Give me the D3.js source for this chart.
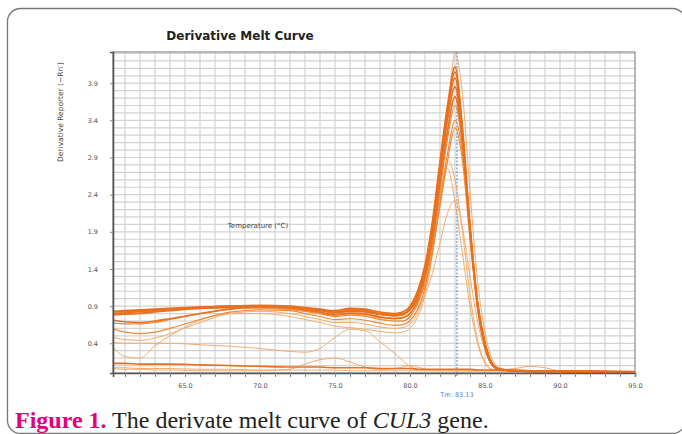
<!DOCTYPE html>
<html>
<head>
<meta charset="utf-8">
<script src="https://cdn.jsdelivr.net/npm/d3@7"></script>
<style>
  body { margin: 0; background: #fff; }
  svg { display: block; }
</style>
</head>
<body>
<div id="chart"></div>
<script>
// temperature samples (°C), shared by every curve
const temps = [60.2, 61, 62, 63, 64, 66, 68, 70, 72, 73, 74, 75, 76, 77, 78, 79, 79.5,
    80, 80.5, 81, 81.5, 82, 82.5, 83, 83.5, 84, 84.5, 85, 85.5, 86,
    87, 88, 89, 90, 92, 95];

// derivative reporter values
const c1 = [0.80, 0.82, 0.84, 0.85, 0.86, 0.87, 0.88, 0.89, 0.88, 0.86, 0.84, 0.83, 0.86, 0.85, 0.80, 0.78, 0.79,
    0.85, 1.00, 1.30, 1.80, 2.60, 3.45, 4.30, 3.75, 2.45, 1.25, 0.55, 0.18, 0.07,
    0.03, 0.02, 0.02, 0.02, 0.01, 0.01];
const c2 = [0.83, 0.84, 0.85, 0.86, 0.87, 0.89, 0.90, 0.91, 0.90, 0.88, 0.86, 0.84, 0.87, 0.86, 0.82, 0.80, 0.82,
    0.90, 1.10, 1.45, 2.05, 2.85, 3.60, 4.12, 3.30, 2.00, 0.95, 0.40, 0.12, 0.05,
    0.03, 0.02, 0.02, 0.02, 0.01, 0.01];
const c3 = [0.80, 0.81, 0.83, 0.84, 0.86, 0.88, 0.90, 0.90, 0.89, 0.87, 0.85, 0.82, 0.85, 0.84, 0.80, 0.79, 0.80,
    0.88, 1.08, 1.42, 2.00, 2.80, 3.55, 4.05, 3.25, 1.95, 0.90, 0.35, 0.10, 0.04,
    0.03, 0.02, 0.02, 0.02, 0.01, 0.01];
const c4 = [0.78, 0.79, 0.80, 0.82, 0.84, 0.87, 0.89, 0.90, 0.88, 0.86, 0.84, 0.81, 0.83, 0.82, 0.79, 0.77, 0.78,
    0.86, 1.05, 1.40, 1.95, 2.75, 3.50, 3.97, 3.20, 1.90, 0.88, 0.35, 0.10, 0.04,
    0.03, 0.02, 0.02, 0.02, 0.01, 0.01];
const c5 = [0.82, 0.83, 0.84, 0.85, 0.86, 0.88, 0.89, 0.90, 0.89, 0.87, 0.84, 0.81, 0.84, 0.83, 0.79, 0.77, 0.79,
    0.85, 1.02, 1.35, 1.90, 2.65, 3.40, 3.85, 3.15, 1.95, 0.95, 0.40, 0.12, 0.05,
    0.03, 0.02, 0.02, 0.02, 0.01, 0.01];
const c6 = [0.71, 0.69, 0.68, 0.70, 0.73, 0.80, 0.86, 0.89, 0.88, 0.85, 0.82, 0.78, 0.80, 0.79, 0.75, 0.73, 0.74,
    0.80, 0.98, 1.30, 1.80, 2.55, 3.25, 3.72, 3.10, 1.95, 0.95, 0.40, 0.12, 0.05,
    0.03, 0.02, 0.02, 0.02, 0.01, 0.01];
const c7 = [0.67, 0.66, 0.66, 0.68, 0.72, 0.80, 0.86, 0.88, 0.86, 0.83, 0.80, 0.76, 0.78, 0.76, 0.72, 0.70, 0.70,
    0.76, 0.92, 1.25, 1.75, 2.45, 3.15, 3.60, 3.05, 1.90, 0.95, 0.40, 0.12, 0.05,
    0.03, 0.02, 0.02, 0.02, 0.01, 0.01];
const c8 = [0.59, 0.55, 0.53, 0.55, 0.60, 0.72, 0.82, 0.85, 0.84, 0.80, 0.76, 0.72, 0.73, 0.71, 0.67, 0.64, 0.65,
    0.70, 0.85, 1.15, 1.65, 2.30, 2.95, 3.40, 2.95, 1.85, 0.95, 0.40, 0.13, 0.05,
    0.03, 0.02, 0.02, 0.02, 0.01, 0.01];
const c9 = [0.48, 0.45, 0.44, 0.47, 0.53, 0.68, 0.80, 0.83, 0.80, 0.76, 0.72, 0.68, 0.68, 0.66, 0.62, 0.60, 0.61,
    0.66, 0.80, 1.10, 1.60, 2.30, 2.86, 2.60, 1.90, 1.05, 0.45, 0.15, 0.05, 0.03,
    0.02, 0.02, 0.02, 0.02, 0.01, 0.01];
const c10 = [0.35, 0.22, 0.20, 0.37, 0.50, 0.71, 0.80, 0.80, 0.76, 0.72, 0.68, 0.63, 0.61, 0.59, 0.56, 0.54, 0.55,
    0.60, 0.75, 1.05, 1.60, 2.40, 2.75, 2.30, 1.60, 0.90, 0.40, 0.13, 0.04, 0.03,
    0.02, 0.02, 0.02, 0.02, 0.01, 0.01];
const c11 = [0.79, 0.80, 0.82, 0.84, 0.86, 0.87, 0.88, 0.87, 0.85, 0.83, 0.80, 0.78, 0.80, 0.77, 0.73, 0.70, 0.70,
    0.74, 0.85, 1.05, 1.35, 1.75, 2.15, 2.32, 1.95, 1.30, 0.70, 0.30, 0.10, 0.04,
    0.03, 0.02, 0.02, 0.02, 0.01, 0.01];
const c12 = [0.80, 0.80, 0.81, 0.83, 0.85, 0.87, 0.88, 0.88, 0.86, 0.84, 0.81, 0.79, 0.81, 0.80, 0.76, 0.74, 0.75,
    0.80, 0.95, 1.20, 1.65, 2.25, 2.85, 3.30, 2.85, 1.80, 0.90, 0.38, 0.12, 0.05,
    0.03, 0.02, 0.02, 0.02, 0.01, 0.01];
const n1 = [0.41, 0.40, 0.40, 0.40, 0.40, 0.38, 0.36, 0.33, 0.29, 0.28, 0.33, 0.48, 0.59, 0.57, 0.42, 0.26, 0.17,
    0.09, 0.05, 0.04, 0.04, 0.04, 0.04, 0.03, 0.03, 0.03, 0.03, 0.03, 0.03, 0.03,
    0.03, 0.03, 0.02, 0.02, 0.02, 0.02];
const n2 = [0.06, 0.05, 0.05, 0.04, 0.04, 0.03, 0.03, 0.03, 0.05, 0.12, 0.18, 0.20, 0.15, 0.08, 0.05, 0.06, 0.08,
    0.10, 0.08, 0.05, 0.03, 0.03, 0.03, 0.03, 0.03, 0.03, 0.03, 0.03, 0.03, 0.04,
    0.06, 0.09, 0.07, 0.03, 0.02, 0.01];
const n3 = [0.13, 0.13, 0.12, 0.12, 0.12, 0.11, 0.10, 0.09, 0.08, 0.08, 0.08, 0.07, 0.07, 0.07, 0.06, 0.06, 0.06,
    0.06, 0.05, 0.05, 0.05, 0.05, 0.05, 0.05, 0.05, 0.05, 0.04, 0.04, 0.04, 0.04,
    0.04, 0.03, 0.03, 0.03, 0.03, 0.02];
const n4 = [0.07, 0.07, 0.06, 0.06, 0.06, 0.05, 0.05, 0.04, 0.04, 0.04, 0.04, 0.04, 0.03, 0.03, 0.03, 0.03, 0.03,
    0.03, 0.03, 0.03, 0.03, 0.03, 0.03, 0.03, 0.03, 0.03, 0.03, 0.03, 0.03, 0.03,
    0.02, 0.02, 0.02, 0.02, 0.02, 0.01];

const xTicks = [65, 70, 75, 80, 85, 90, 95];
const yTicks = [0.4, 0.9, 1.4, 1.9, 2.4, 2.9, 3.4, 3.9];
const tm = 83.13;

// drawing order, light ones underneath
const curves = [c1, c9, c10, c11, n1, n2, n4, c7, c8, c12, c2, c3, c4, c5, c6, n3];
const weights = ['light', 'light', 'light', 'light', 'light', 'light', 'light', 'medium', 'medium', 'medium',
    'thick', 'thick', 'thick', 'thick', 'thick', 'thick'];
const look = {
    light: { color: '#f2ad6b', width: 1 },
    medium: { color: '#ec8a3c', width: 1.2 },
    thick: { color: '#e8701e', width: 1.6 }
};

const svg = d3.select('#chart')
    .append('svg')
    .attr('width', 682)
    .attr('height', 434);

// frame round the figure
svg.append('rect')
    .attr('x', 7.5).attr('y', 8.5)
    .attr('width', 678).attr('height', 425)
    .attr('rx', 13)
    .attr('fill', 'none')
    .attr('stroke', '#777')
    .attr('stroke-width', 1.3);

const x = d3.scaleLinear()
    .domain([60.2, 95])
    .range([113, 635]);

const y = d3.scaleLinear()
    .domain([0, 4.32])
    .range([373, 52]);

// grid
svg.append('g')
    .selectAll('line')
    .data(d3.range(61, 95, 1))
    .enter()
    .append('line')
    .attr('x1', d => x(d)).attr('x2', d => x(d))
    .attr('y1', y(4.32)).attr('y2', y(0))
    .attr('stroke', '#d2d2d2')
    .attr('stroke-width', 1.2);

svg.append('g')
    .selectAll('line')
    .data(d3.range(1, 44).map(k => k / 10))
    .enter()
    .append('line')
    .attr('x1', x(60.2)).attr('x2', x(95))
    .attr('y1', d => y(d)).attr('y2', d => y(d))
    .attr('stroke', '#d2d2d2')
    .attr('stroke-width', 1.2);

// plot border
svg.append('rect')
    .attr('x', x(60.2)).attr('y', y(4.32))
    .attr('width', x(95) - x(60.2)).attr('height', y(0) - y(4.32))
    .attr('fill', 'none')
    .attr('stroke', '#8a8a8a')
    .attr('stroke-width', 1.2);

// Tm marker
svg.append('line')
    .attr('x1', x(tm)).attr('x2', x(tm))
    .attr('y1', y(4.32)).attr('y2', y(0) + 3)
    .attr('stroke', '#4f86d0')
    .attr('stroke-width', 1)
    .attr('stroke-dasharray', '2,1.5');

// curves
const line = d3.line()
    .x((d, i) => x(temps[i]))
    .y(d => y(d))
    .curve(d3.curveMonotoneX);

svg.append('g')
    .selectAll('path')
    .data(curves)
    .enter()
    .append('path')
    .attr('d', line)
    .attr('fill', 'none')
    .attr('stroke', (d, i) => look[weights[i]].color)
    .attr('stroke-width', (d, i) => look[weights[i]].width)
    .attr('stroke-linejoin', 'round');

// axes
const xAxis = svg.append('g')
    .attr('transform', `translate(0, ${y(0)})`)
    .call(d3.axisBottom(x)
        .tickValues(d3.range(61, 96, 1))
        .tickSize(4)
        .tickFormat(d => xTicks.includes(d) ? d.toFixed(1) : ''));

const yAxis = svg.append('g')
    .attr('transform', `translate(${x(60.2)}, 0)`)
    .call(d3.axisLeft(y)
        .tickValues(yTicks)
        .tickSize(3)
        .tickPadding(12)
        .tickFormat(d => d.toFixed(1)));

[xAxis, yAxis].forEach(g => {
    g.select('.domain').attr('stroke', '#555').attr('stroke-width', 1.6);
    g.selectAll('.tick line').attr('stroke', '#888');
    g.selectAll('.tick text')
        .attr('fill', '#555')
        .style('font-family', 'DejaVu Sans, sans-serif')
        .style('font-size', '6.5px');
});
xAxis.selectAll('.tick text').attr('dy', '1.2em');

// texts
svg.append('text')
    .attr('x', 240).attr('y', 40)
    .attr('text-anchor', 'middle')
    .style('font-family', 'DejaVu Sans, sans-serif')
    .style('font-weight', 'bold')
    .style('font-size', '12px')
    .attr('fill', '#222')
    .text('Derivative Melt Curve');

svg.append('text')
    .attr('transform', 'translate(63, 112) rotate(-90)')
    .attr('text-anchor', 'middle')
    .style('font-family', 'DejaVu Sans, sans-serif')
    .style('font-size', '7.5px')
    .attr('fill', '#444')
    .text('Derivative Reporter (\u2212Rn\u2032)');

svg.append('text')
    .attr('x', 258).attr('y', 228)
    .attr('text-anchor', 'middle')
    .style('font-family', 'DejaVu Sans, sans-serif')
    .style('font-size', '7px')
    .attr('fill', '#444')
    .text('Temperature (°C)');

svg.append('text')
    .attr('x', x(tm)).attr('y', 397)
    .attr('text-anchor', 'middle')
    .style('font-family', 'DejaVu Sans, sans-serif')
    .style('font-size', '6.5px')
    .attr('fill', '#4f86d0')
    .text('Tm: ' + tm.toFixed(2));

const caption = svg.append('text')
    .attr('x', 15).attr('y', 428)
    .style('font-family', 'Liberation Serif, Times New Roman, serif')
    .style('font-size', '24px')
    .attr('fill', '#222');
caption.append('tspan').attr('fill', '#e4007c').style('font-weight', 'bold').text('Figure 1.');
caption.append('tspan').text(' The derivate melt curve of ');
caption.append('tspan').style('font-style', 'italic').text('CUL3');
caption.append('tspan').text(' gene.');
</script>
</body>
</html>
